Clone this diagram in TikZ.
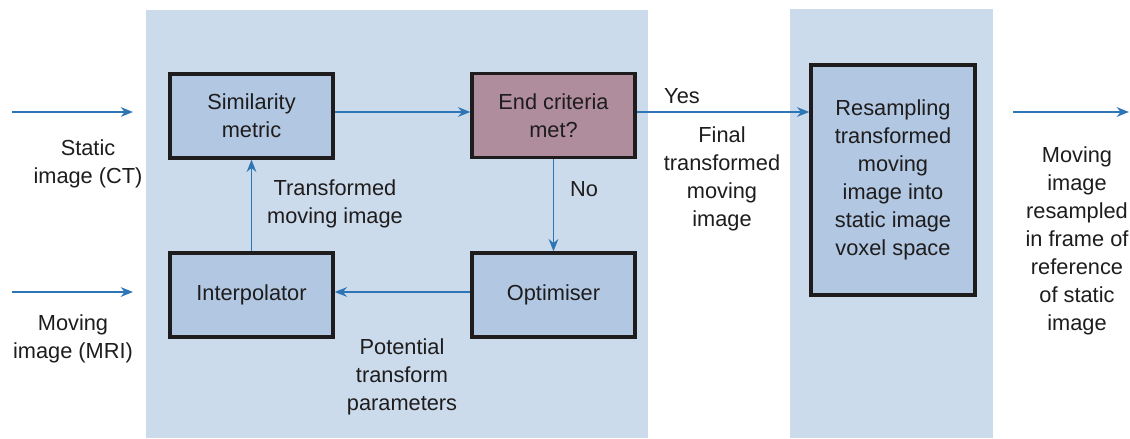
\documentclass[tikz,border=0pt]{standalone}
\usepackage{fontspec}
\setmainfont{Liberation Sans}
\usetikzlibrary{arrows.meta}
\definecolor{panel}{RGB}{204,219,236}
\definecolor{boxfill}{RGB}{177,199,226}
\definecolor{endfill}{RGB}{176,141,156}
\definecolor{arrowblue}{RGB}{46,117,182}
\definecolor{txt}{RGB}{30,28,29}
\newlength{\pxu}
\setlength{\pxu}{0.02cm}
\tikzset{
  every node/.style={font=\fontsize{12.4}{15.9}\selectfont, text=txt, align=center, inner sep=0pt},
  blk/.style={draw=txt, line width=1.9pt, fill=boxfill, minimum width=163\pxu, minimum height=84\pxu},
  conn/.style={draw=arrowblue, line width=0.9pt, -{Stealth[length=7pt,width=5.5pt]}}
}
\begin{document}
\begin{tikzpicture}[x=0.02cm,y=-0.02cm]
\useasboundingbox (0,0) rectangle (1130,439);
\fill[panel] (146,10) rectangle (648,438);
\fill[panel] (790,9) rectangle (993,438);
\node[blk] (sim) at (251.5,116) {Similarity\\metric};
\node[blk, fill=endfill] (end) at (553.5,115.5) {End criteria\\met?};
\node[blk] (interp) at (251.5,295) {Interpolator};
\node[blk] (opt) at (553.5,295) {Optimiser};
\node[blk, minimum width=164\pxu, minimum height=230\pxu] (res) at (893,180) {Resampling\\transformed\\moving\\image into\\static image\\voxel space};
% free ends
\coordinate (sinA) at (12,112);
\coordinate (sinB) at (133,112);
\coordinate (minA) at (12,292);
\coordinate (minB) at (133,292);
\coordinate (outA) at (1013,112);
\coordinate (outB) at (1129,112);
\draw[conn] (sinA) -- (sinB);
\draw[conn] (minA) -- (minB);
\draw[conn] (outA) -- (outB);
% internal connectors
\draw[conn] (sim.east |- 0,112) -- (end.west |- 0,112);
\draw[conn] (end.east |- 0,112) -- (res.west |- 0,112);
\draw[conn] (end.south) -- (opt.north);
\draw[conn] (opt.west |- 0,292) -- (interp.east |- 0,292);
\draw[conn] (interp.north) -- (sim.south);
% labels
\node (l1) at (88,163.5) {Static\\image (CT)};
\node (l2) at (73,339) {Moving\\image (MRI)};
\node (l3) at (335,204) {Transformed\\moving image};
\node (l4) at (402,377) {Potential\\transform\\parameters};
\node (l5) at (584,189) {No};
\node (l6) at (682,96) {Yes};
\node (l7) at (722,178.5) {Final\\transformed\\moving\\image};
\node (l8) at (1077,241) {Moving\\image\\resampled\\in frame of\\reference\\of static\\image};
\end{tikzpicture}
\end{document}
